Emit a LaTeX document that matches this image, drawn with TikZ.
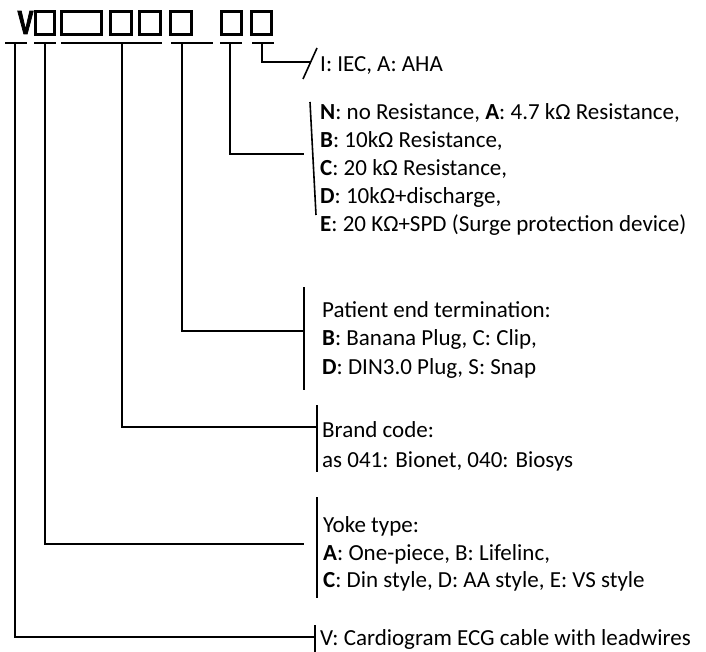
\documentclass[tikz,border=0pt]{standalone}
\usepackage{fontspec}
\setmainfont{Carlito}
\newfontfamily\vfont[FakeBold=3]{Liberation Sans Bold}
\begin{document}
\begin{tikzpicture}[x=1pt,y=-1pt,
  lbl/.style={anchor=base west, inner sep=0pt, font=\fontsize{23}{27}\selectfont},
  conn/.style={line width=1.6pt},
  barline/.style={line width=1.6pt},
  uline/.style={line width=1.6pt},
  slot/.style={draw, line width=2.6pt, inner sep=0pt, minimum height=23.4pt}]
\useasboundingbox (0,0) rectangle (706,652);

% code letter and slots
\node[inner sep=0pt, font=\vfont\fontsize{33}{33}\selectfont, xscale=0.72] (V) at (25.5,22.5) {V};
\node[slot, minimum width=19.4pt] (s1) at (45,23) {};
\node[slot, minimum width=40.4pt] (s2) at (81.5,23) {};
\node[slot, minimum width=21.4pt] (s3) at (121,23) {};
\node[slot, minimum width=21.4pt] (s4) at (150,23) {};
\node[slot, minimum width=21.4pt] (s5) at (181,23) {};
\node[slot, minimum width=20.4pt] (s6) at (231.5,23) {};
\node[slot, minimum width=20.4pt] (s7) at (261.5,23) {};

% underlines
\draw[uline] (5,43) -- (27,43);
\draw[uline] (34,43) -- (56,43);
\draw[uline] (61,43) -- (162,43);
\draw[uline] (171,43) -- (213,43);
\draw[uline] (220,43) -- (242,43);
\draw[uline] (252,43) -- (274,43);
\coordinate (t1) at (15,43);
\coordinate (t2) at (45,43);
\coordinate (t3) at (122,43);
\coordinate (t4) at (182,43);
\coordinate (t5) at (230,43);
\coordinate (t6) at (262,43);

% junctions
\coordinate (ij) at (310,62);
\coordinate (rj) at (304,154);
\coordinate (pj) at (304,331);
\coordinate (bj) at (317,427);
\coordinate (yj) at (304,544);
\coordinate (vj) at (315,637);

% bars
\draw[barline] (303,79) -- (317,48);
\draw[barline] (310,102) -- (316,215);
\draw[barline] (304,287) -- (304,390);
\draw[barline] (317,405) -- (317,472);
\draw[barline] (317,497) -- (317,598);
\draw[barline] (315,625) -- (315,652);

% connectors
\draw[conn] (t6) |- (ij);
\draw[conn] (t5) |- (rj);
\draw[conn] (t4) |- (pj);
\draw[conn] (t3) |- (bj);
\draw[conn] (t2) |- (yj);
\draw[conn] (t1) |- (vj);

% texts
\node[lbl] (l1) at (320,72) {I: IEC, A: AHA};
\node[lbl] (r1) at (320,120) {\textbf{N}: no Resistance, \textbf{A}: 4.7 kΩ Resistance,};
\node[lbl] (r2) at (320,148) {\textbf{B}: 10kΩ Resistance,};
\node[lbl] (r3) at (320,176) {\textbf{C}: 20 kΩ Resistance,};
\node[lbl] (r4) at (320,204) {\textbf{D}: 10kΩ+discharge,};
\node[lbl] (r5) at (320,232) {\textbf{E}: 20 KΩ+SPD (Surge protection device)};
\node[lbl] (p1) at (322,317) {Patient end termination:};
\node[lbl] (p2) at (322,345) {\textbf{B}: Banana Plug, C: Clip,};
\node[lbl] (p3) at (322,374) {\textbf{D}: DIN3.0 Plug, S: Snap};
\node[lbl] (b1) at (322,437) {Brand code:};
\node[lbl] (b2) at (322,467) {as 041: Bionet, 040: Biosys};
\node[lbl] (y1) at (323,532) {Yoke type:};
\node[lbl] (y2) at (323,560) {\textbf{A}: One-piece, B: Lifelinc,};
\node[lbl] (y3) at (323,587) {\textbf{C}: Din style, D: AA style, E: VS style};
\node[lbl] (v1) at (320,645) {V: Cardiogram ECG cable with leadwires};
\end{tikzpicture}
\end{document}
